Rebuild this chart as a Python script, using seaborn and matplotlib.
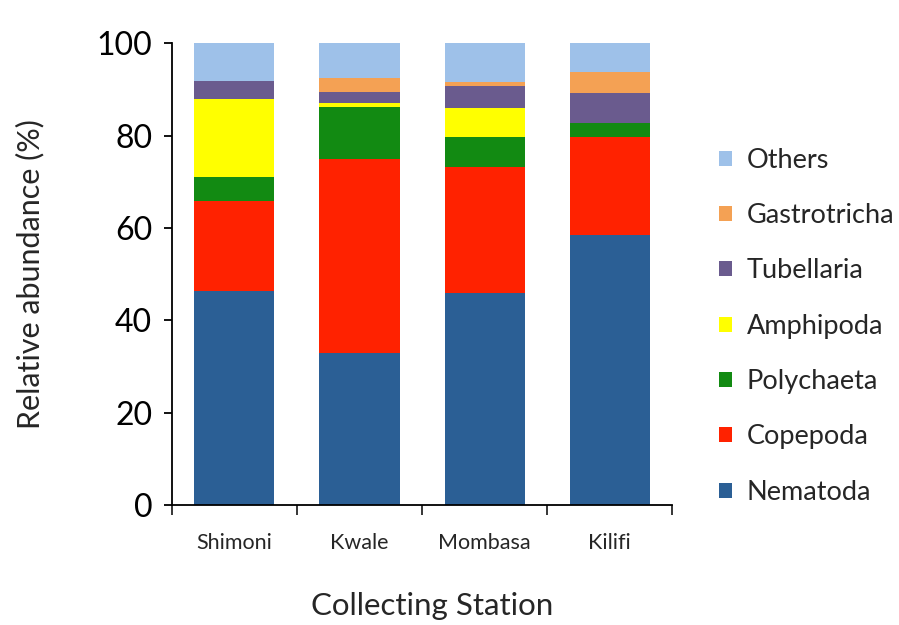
import numpy as np
import pandas as pd
import matplotlib
matplotlib.use("Agg")
import matplotlib.pyplot as plt
from matplotlib.patches import Patch
import seaborn as sns

# Values (% of total per station)
stations = ["Shimoni", "Kwale", "Mombasa", "Kilifi"]
groups = ["Nematoda", "Copepoda", "Polychaeta", "Amphipoda",
          "Tubellaria", "Gastrotricha", "Others"]
nematoda = [46.4, 33.0, 45.9, 58.4]
copepoda = [19.4, 42.0, 27.3, 21.3]
polychaeta = [5.3, 11.2, 6.4, 3.1]
amphipoda = [16.9, 0.8, 6.3, 0.0]
tubellaria = [3.8, 2.5, 4.8, 6.3]
gastrotricha = [0.0, 2.9, 0.9, 4.7]
others = [8.2, 7.6, 8.4, 6.2]

colors = ["#2b5f95", "#ff2200", "#128a12", "#ffff00",
          "#6a5b8e", "#f4a154", "#9ec1e9"]

df = pd.DataFrame(
    [nematoda, copepoda, polychaeta, amphipoda, tubellaria, gastrotricha, others],
    index=groups, columns=stations,
).T
cum = df.cumsum(axis=1)

sns.set_style("white")
plt.rcParams["font.family"] = ["Lato", "DejaVu Sans"]

fig = plt.figure(figsize=(8.99, 6.25), dpi=100)
ax = fig.add_axes([0.191, 0.192, 0.557, 0.739])

# draw cumulative totals from the top layer down so each overlays the next
for g, c in reversed(list(zip(groups, colors))):
    sns.barplot(x=cum.index, y=cum[g].values, color=c, width=0.64,
                saturation=1, ax=ax, linewidth=0)

ax.set_ylim(0, 100)
ax.set_xlim(-0.5, 3.5)
ax.set_yticks([0, 20, 40, 60, 80, 100])
ax.tick_params(axis="y", labelsize=23, length=6, width=1.3, direction="out",
               left=True, pad=8, colors="black")
ax.set_xticks(range(len(stations)))
ax.set_xticklabels(stations)
ax.tick_params(axis="x", which="major", length=0, labelsize=15.5, pad=20)
ax.set_xticks(np.arange(-0.5, 4, 1.0), minor=True)
ax.tick_params(axis="x", which="minor", length=7, width=1.3, direction="out",
               bottom=True)

for s in ["top", "right"]:
    ax.spines[s].set_visible(False)
for s in ["left", "bottom"]:
    ax.spines[s].set_color("black")
    ax.spines[s].set_linewidth(1.3)

ax.set_ylabel("Relative abundance (%)", fontsize=22)
ax.yaxis.set_label_coords(-0.254, 0.5)
ax.set_xlabel("Collecting Station", fontsize=22.5)
ax.xaxis.set_label_coords(0.52, -0.188)

handles = [Patch(facecolor=c, edgecolor="none") for c in colors]
leg = ax.legend(handles[::-1], groups[::-1], loc="center left",
                bbox_to_anchor=(1.044, 0.387), frameon=False, fontsize=19.5,
                handlelength=0.48, handleheight=0.48, handletextpad=0.55,
                labelspacing=1.12)

fig.savefig("out.png", dpi=100, facecolor="white")
